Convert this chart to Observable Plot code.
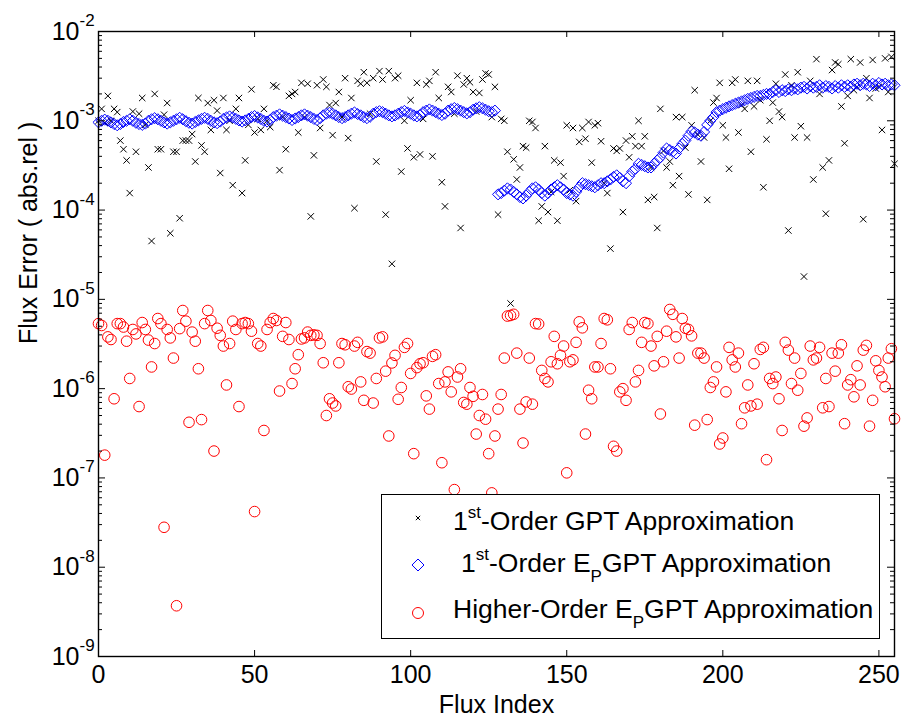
<!DOCTYPE html>
<html><head><meta charset="utf-8">
<script src="https://cdn.jsdelivr.net/npm/d3@7"></script>
<script src="https://cdn.jsdelivr.net/npm/@observablehq/plot@0.6"></script>
<style>html,body{margin:0;padding:0;background:#fff;overflow:hidden}</style>
</head><body><div id="chart"></div>
<script>
// Series values, flux index 0..255
const gpt1 = [
1.0e-3,1.36e-3,9.5e-4,1.9e-3,1.0e-3,1.36e-3,1.25e-3,6.0e-4,4.8e-4,3.6e-4,
1.55e-4,1.27e-3,4.5e-4,1.2e-3,1.8e-3,9.0e-4,3.0e-4,4.5e-5,2.0e-3,4.8e-4,
4.8e-4,1.17e-3,1.58e-3,5.5e-5,4.5e-4,4.5e-4,8.1e-5,6.0e-4,6.0e-4,6.0e-4,
7.1e-4,3.5e-4,1.8e-3,5.3e-4,4.5e-4,1.58e-3,7.9e-4,1.7e-3,1.3e-3,2.6e-4,
1.8e-3,7.9e-4,1.0e-3,1.9e-4,1.36e-3,1.8e-3,1.55e-4,3.6e-4,9.0e-4,2.25e-3,
7.4e-4,1.05e-3,7.9e-4,1.36e-3,1.0e-3,8.5e-4,2.5e-3,2.4e-3,2.8e-4,1.1e-3,
4.8e-4,1.9e-3,2.0e-3,2.1e-3,7.4e-4,2.66e-3,1.1e-3,2.6e-3,8.5e-5,4.1e-4,
2.5e-3,8.3e-4,2.9e-3,2.4e-3,1.5e-3,6.9e-4,1.58e-3,2.1e-3,1.1e-3,3.0e-3,
6.4e-4,1.8e-3,1.05e-4,2.8e-3,2.6e-3,3.5e-3,2.66e-3,1.2e-3,3.0e-3,3.5e-4,
3.6e-3,2.9e-3,8.9e-5,3.6e-3,2.5e-5,3.0e-3,3.2e-3,2.7e-4,1.0e-3,4.9e-4,
1.7e-3,3.9e-4,2.66e-3,4.2e-4,1.05e-3,2.55e-3,2.8e-3,4.0e-4,3.5e-3,1.8e-3,
2.05e-4,1.1e-4,2.4e-3,2.1e-3,1.2e-3,3.2e-3,6.3e-5,2.55e-3,3.0e-3,2.7e-3,
2.1e-3,1.27e-3,2.05e-3,2.9e-3,3.4e-3,3.3e-3,1.1e-3,2.4e-3,8.9e-5,1.05e-3,
1.0e-3,4.5e-4,9.0e-6,3.7e-4,2.2e-4,3.0e-4,5.2e-4,5.0e-4,1.0e-3,9.7e-4,
8.3e-4,7.6e-5,1.1e-4,5.2e-4,9.5e-5,1.6e-4,3.6e-4,7.6e-5,3.4e-4,2.4e-4,
8.9e-4,1.67e-4,8.3e-4,1.26e-4,5.8e-4,8.3e-4,6.3e-4,9.7e-4,3.4e-4,8.9e-4,
9.4e-4,5.9e-4,2.0e-4,1.55e-4,3.7e-5,4.9e-4,4.6e-4,4.9e-4,9.5e-5,6.0e-4,
3.9e-4,6.7e-4,5.2e-4,1.0e-3,5.2e-4,6.7e-4,1.3e-4,3.0e-4,1.4e-4,6.3e-5,
1.36e-3,4.6e-4,3.0e-4,3.5e-4,1.9e-4,1.1e-3,2.4e-4,1.1e-3,5.0e-4,1.5e-4,
8.9e-4,2.2e-3,7.0e-4,3.5e-4,6.5e-4,1.3e-4,1.0e-3,1.6e-3,1.8e-3,2.66e-3,
8.9e-4,6.5e-4,2.9e-4,2.66e-3,2.9e-3,7.4e-4,1.5e-3,1.36e-3,2.8e-3,4.5e-4,
1.45e-3,2.8e-3,1.7e-3,1.8e-4,6.2e-4,1.0e-3,1.6e-3,2.6e-3,1.27e-3,1.1e-3,
3.3e-3,5.9e-5,2.5e-3,6.5e-4,3.5e-3,8.7e-4,1.8e-5,6.5e-4,2.8e-3,2.2e-4,
4.9e-3,2.0e-3,3.0e-4,9.1e-5,3.6e-4,3.7e-3,4.5e-3,4.3e-3,1.45e-3,5.6e-4,
1.9e-3,4.9e-3,2.2e-3,2.4e-3,4.5e-3,7.9e-5,3.0e-3,1.8e-3,4.8e-3,2.3e-3,
2.4e-3,7.9e-4,5.0e-3,2.1e-3,5.2e-3,3.3e-4
];
const epgpt1 = [
9.6e-4,1.0e-3,1.03e-3,1.0e-3,9.6e-4,9.2e-4,8.9e-4,9.2e-4,
9.7e-4,1.0e-3,1.04e-3,1.0e-3,9.5e-4,9.2e-4,9.0e-4,9.3e-4,
1.0e-3,1.04e-3,1.07e-3,1.04e-3,1.0e-3,9.6e-4,9.3e-4,9.6e-4,
1.0e-3,1.04e-3,1.08e-3,1.04e-3,9.9e-4,9.5e-4,9.3e-4,9.7e-4,
1.01e-3,1.05e-3,1.08e-3,1.05e-3,1.0e-3,9.6e-4,9.4e-4,9.8e-4,
1.05e-3,1.09e-3,1.12e-3,1.09e-3,1.05e-3,1.01e-3,9.8e-4,1.01e-3,
1.05e-3,1.1e-3,1.13e-3,1.09e-3,1.05e-3,1.0e-3,9.8e-4,1.02e-3,
1.1e-3,1.14e-3,1.18e-3,1.14e-3,1.1e-3,1.06e-3,1.02e-3,1.06e-3,
1.1e-3,1.15e-3,1.18e-3,1.14e-3,1.1e-3,1.05e-3,1.02e-3,1.07e-3,
1.15e-3,1.2e-3,1.23e-3,1.2e-3,1.15e-3,1.1e-3,1.07e-3,1.1e-3,
1.15e-3,1.2e-3,1.24e-3,1.19e-3,1.15e-3,1.1e-3,1.07e-3,1.11e-3,
1.2e-3,1.25e-3,1.28e-3,1.25e-3,1.2e-3,1.15e-3,1.12e-3,1.15e-3,
1.2e-3,1.25e-3,1.29e-3,1.24e-3,1.2e-3,1.15e-3,1.12e-3,1.16e-3,
1.25e-3,1.3e-3,1.34e-3,1.3e-3,1.25e-3,1.2e-3,1.16e-3,1.2e-3,
1.3e-3,1.35e-3,1.39e-3,1.35e-3,1.3e-3,1.25e-3,1.21e-3,1.25e-3,
1.33e-3,1.38e-3,1.42e-3,1.38e-3,1.33e-3,1.28e-3,1.25e-3,1.3e-3,
1.5e-4,1.55e-4,1.65e-4,1.75e-4,1.7e-4,1.6e-4,1.5e-4,1.4e-4,1.35e-4,1.45e-4,
1.6e-4,1.75e-4,1.8e-4,1.7e-4,1.55e-4,1.45e-4,1.55e-4,1.7e-4,1.8e-4,1.9e-4,
1.8e-4,1.7e-4,1.55e-4,1.5e-4,1.45e-4,1.6e-4,1.8e-4,2.0e-4,1.95e-4,1.9e-4,
1.85e-4,1.8e-4,1.9e-4,2.0e-4,2.0e-4,2.1e-4,2.2e-4,2.35e-4,2.45e-4,2.3e-4,
2.1e-4,2.0e-4,2.4e-4,2.7e-4,2.9e-4,3.3e-4,3.2e-4,3.1e-4,3.0e-4,3.0e-4,
3.3e-4,3.6e-4,3.9e-4,4.4e-4,4.9e-4,4.7e-4,4.5e-4,4.3e-4,4.9e-4,5.5e-4,
6.0e-4,6.8e-4,7.6e-4,7.4e-4,7.0e-4,6.8e-4,7.5e-4,9.0e-4,1.0e-3,1.1e-3,
1.25e-3,1.3e-3,1.35e-3,1.4e-3,1.45e-3,1.5e-3,1.55e-3,1.6e-3,1.65e-3,1.7e-3,
1.76e-3,1.8e-3,1.85e-3,1.9e-3,1.9e-3,1.95e-3,2.0e-3,2.0e-3,2.1e-3,2.2e-3,
2.1e-3,2.2e-3,2.15e-3,2.25e-3,2.2e-3,2.3e-3,2.25e-3,2.35e-3,2.4e-3,2.3e-3,
2.45e-3,2.35e-3,2.4e-3,2.5e-3,2.35e-3,2.45e-3,2.4e-3,2.3e-3,2.45e-3,2.35e-3,
2.5e-3,2.4e-3,2.5e-3,2.4e-3,2.55e-3,2.6e-3,2.5e-3,2.6e-3,2.55e-3,2.45e-3,
2.6e-3,2.5e-3,2.65e-3,2.55e-3,2.6e-3,2.5e-3,2.55e-3,2.5e-3
];
const epgptHigh = [
5.35e-6,5.1e-6,1.8e-7,3.8e-6,3.55e-6,7.7e-7,5.35e-6,5.35e-6,4.9e-6,3.4e-6,
1.3e-6,4.6e-6,4.1e-6,6.3e-7,5.5e-6,4.6e-6,3.5e-6,1.75e-6,3.2e-6,6.1e-6,
5.35e-6,2.8e-8,4.6e-6,3.7e-6,2.2e-6,3.7e-9,4.7e-6,7.5e-6,5.7e-6,4.2e-7,
4.3e-6,3.4e-6,1.67e-6,4.5e-7,5.35e-6,7.5e-6,5.8e-6,2.0e-7,4.75e-6,3.95e-6,
3.0e-6,1.1e-6,3.2e-6,5.7e-6,4.6e-6,6.3e-7,5.35e-6,5.5e-6,5.35e-6,4.4e-6,
4.2e-8,3.2e-6,3.0e-6,3.4e-7,4.6e-6,5.5e-6,6.1e-6,5.8e-6,9.4e-7,3.85e-6,
5.5e-6,3.55e-6,1.14e-6,1.67e-6,2.4e-6,3.6e-6,3.7e-6,4.3e-6,3.95e-6,4.0e-6,
3.95e-6,3.2e-6,1.95e-6,5.0e-7,7.7e-7,6.9e-7,6.4e-7,1.95e-6,3.2e-6,3.1e-6,
1.05e-6,9.9e-7,3.0e-6,3.3e-6,1.19e-6,7.4e-7,2.6e-6,2.5e-6,6.9e-7,1.3e-6,
3.7e-6,3.8e-6,1.57e-6,2.95e-7,1.94e-6,2.36e-6,7.6e-7,1.03e-6,2.9e-6,3.2e-6,
1.48e-6,1.87e-7,1.72e-6,1.9e-6,1.95e-6,8.3e-7,5.9e-7,2.3e-6,2.4e-6,1.14e-6,
1.48e-7,1.19e-6,1.54e-6,9.2e-7,7.4e-8,1.35e-6,1.67e-6,7.0e-7,6.7e-7,1.03e-6,
8.2e-7,3.1e-7,5.0e-7,8.6e-7,4.55e-7,1.87e-7,6.8e-8,2.95e-7,5.9e-7,8.6e-7,
2.2e-6,6.5e-6,6.6e-6,6.8e-6,2.5e-6,5.9e-7,2.46e-7,7.1e-7,2.2e-6,6.7e-7,
5.35e-6,5.3e-6,1.6e-6,1.3e-6,1.19e-6,2.0e-6,3.85e-6,1.9e-6,2.36e-6,3.0e-6,
1.14e-7,2.0e-6,2.1e-6,3.3e-6,5.6e-6,4.8e-6,3.1e-7,9.6e-7,7.7e-7,1.75e-6,
1.75e-6,3.2e-6,6.1e-6,5.9e-6,1.67e-6,2.26e-7,2.0e-7,9.2e-7,1.0e-6,7.4e-7,
4.6e-6,5.5e-6,1.19e-6,1.6e-6,3.3e-6,5.5e-6,5.35e-6,3.0e-6,1.8e-6,3.85e-6,
5.2e-7,2.0e-6,4.4e-6,7.7e-6,6.8e-6,3.8e-6,2.2e-6,6.1e-6,4.75e-6,4.6e-6,
3.9e-6,3.9e-7,2.5e-6,2.5e-6,2.2e-6,4.5e-7,1.03e-6,1.19e-6,1.75e-6,2.4e-7,
2.8e-7,9.2e-7,2.9e-6,2.1e-6,1.75e-6,2.5e-6,4.05e-7,6.1e-7,1.1e-6,6.4e-7,
1.9e-6,6.7e-7,2.75e-6,2.9e-6,1.6e-7,1.3e-6,1.14e-6,1.35e-6,7.7e-7,3.4e-7,
3.3e-6,2.7e-6,1.14e-6,2.2e-6,9.6e-7,1.48e-6,3.8e-7,4.7e-7,3.0e-6,2.1e-6,
2.2e-6,2.9e-6,6.1e-7,1.3e-6,6.3e-7,2.5e-6,1.57e-6,2.5e-6,3.1e-6,4.05e-7,
1.1e-6,1.26e-6,8.1e-7,1.8e-6,1.1e-6,2.7e-6,3.05e-6,3.8e-7,7.4e-7,2.05e-6,
1.6e-6,1.35e-6,1.05e-6,2.2e-6,2.8e-6,4.6e-7
];
const xTicks = [0, 50, 100, 150, 200, 250];
const yTicks = [1e-2, 1e-3, 1e-4, 1e-5, 1e-6, 1e-7, 1e-8, 1e-9];
const yTickExp = ["-2", "-3", "-4", "-5", "-6", "-7", "-8", "-9"];
const xLabel = "Flux Index";
const yLabel = "Flux Error ( abs.rel )";
const seriesNames = [
  [{t: "1"}, {t: "st", sup: true}, {t: "-Order GPT Approximation"}],
  [{t: "1"}, {t: "st", sup: true}, {t: "-Order E"}, {t: "P", sub: true}, {t: "GPT Approximation"}],
  [{t: "Higher-Order E"}, {t: "P", sub: true}, {t: "GPT Approximation"}]
];

const W = 903, H = 719, mL = 98, mR = 9, mT = 31, mB = 63;
const pw = W - mL - mR, ph = H - mT - mB;
const font = "'Liberation Sans', Arial, Helvetica, sans-serif";
const toPts = arr => arr.map((v, i) => ({x: i, y: v}));
const minor = [];
for (let e = -9; e < -2; e++) for (let m = 2; m <= 9; m++) minor.push(m * Math.pow(10, e));

const chart = Plot.plot({
  width: W, height: H,
  marginLeft: mL, marginRight: mR, marginTop: mT, marginBottom: mB,
  style: {fontFamily: font, background: "white", color: "black"},
  x: {domain: [0, 255], axis: null},
  y: {type: "log", domain: [1e-9, 1e-2], axis: null},
  marks: [
    Plot.dot(toPts(gpt1), {x: "x", y: "y", symbol: "times", r: 3, stroke: "black", strokeWidth: 1}),
    Plot.dot(toPts(epgpt1), {x: "x", y: "y", symbol: "diamond2", r: 5, stroke: "#0000ff", strokeWidth: 1}),
    Plot.dot(toPts(epgptHigh), {x: "x", y: "y", symbol: "circle", r: 5.3, stroke: "#ff0000", strokeWidth: 1}),
    Plot.ruleY(yTicks, {y: d => d, insetRight: pw - 7, stroke: "black"}),
    Plot.ruleY(yTicks, {y: d => d, insetLeft: pw - 7, stroke: "black"}),
    Plot.ruleY(minor, {y: d => d, insetRight: pw - 4, stroke: "black"}),
    Plot.ruleY(minor, {y: d => d, insetLeft: pw - 4, stroke: "black"}),
    Plot.ruleX(xTicks, {x: d => d, insetTop: ph - 6, stroke: "black"}),
    Plot.ruleX(xTicks, {x: d => d, insetBottom: ph - 6, stroke: "black"}),
    Plot.frame({stroke: "black", strokeWidth: 1.4}),
    Plot.axisX(xTicks, {tickSize: 0, tickPadding: 9, fontSize: 25, label: null}),
    Plot.text(yTicks, {y: d => d, text: () => "10", frameAnchor: "left", textAnchor: "end", dx: -19, fontSize: 25, lineAnchor: "middle", fill: "black"}),
    Plot.text(yTicks, {y: d => d, text: (d, i) => yTickExp[i], frameAnchor: "left", textAnchor: "start", dx: -19, dy: -11, fontSize: 17, lineAnchor: "middle", fill: "black"}),
    Plot.text([xLabel], {frameAnchor: "bottom", dy: 56, fontSize: 25, lineAnchor: "bottom", fill: "black"}),
    Plot.text([yLabel], {frameAnchor: "left", rotate: -90, dx: -62, fontSize: 25, lineAnchor: "bottom", fill: "black"})
  ]
});
document.getElementById("chart").appendChild(chart);

// Legend inside the axes (lower right)
const svg = d3.select(chart);
const lg = svg.append("g").attr("font-family", font).attr("fill", "black").attr("text-anchor", "start");
lg.append("rect").attr("x", 381.5).attr("y", 494.5).attr("width", 498).attr("height", 144)
  .attr("fill", "white").attr("stroke", "black").attr("stroke-width", 1);
const rowsY = [518, 565, 613];
const baseY = [530, 572, 618];
const textX = [453, 461, 453];
lg.append("path").attr("transform", `translate(418,${rowsY[0]})`)
  .attr("d", d3.symbol(d3.symbolTimes, 14)()).attr("fill", "none").attr("stroke", "black");
lg.append("path").attr("transform", `translate(418,${rowsY[1]})`)
  .attr("d", d3.symbol(d3.symbolDiamond2, 92)()).attr("fill", "none").attr("stroke", "#0000ff");
lg.append("circle").attr("cx", 418).attr("cy", rowsY[2]).attr("r", 5.5)
  .attr("fill", "none").attr("stroke", "#ff0000");
seriesNames.forEach((segs, k) => {
  const t = lg.append("text").attr("x", textX[k]).attr("y", baseY[k]).attr("font-size", 26.5).attr("text-anchor", "start");
  let shift = 0;
  segs.forEach(s => {
    const target = s.sup ? -12 : s.sub ? 10 : 0;
    t.append("tspan").attr("dy", target - shift).attr("font-size", (s.sup || s.sub) ? 17 : 26.5).text(s.t);
    shift = target;
  });
});
</script>
</body></html>
